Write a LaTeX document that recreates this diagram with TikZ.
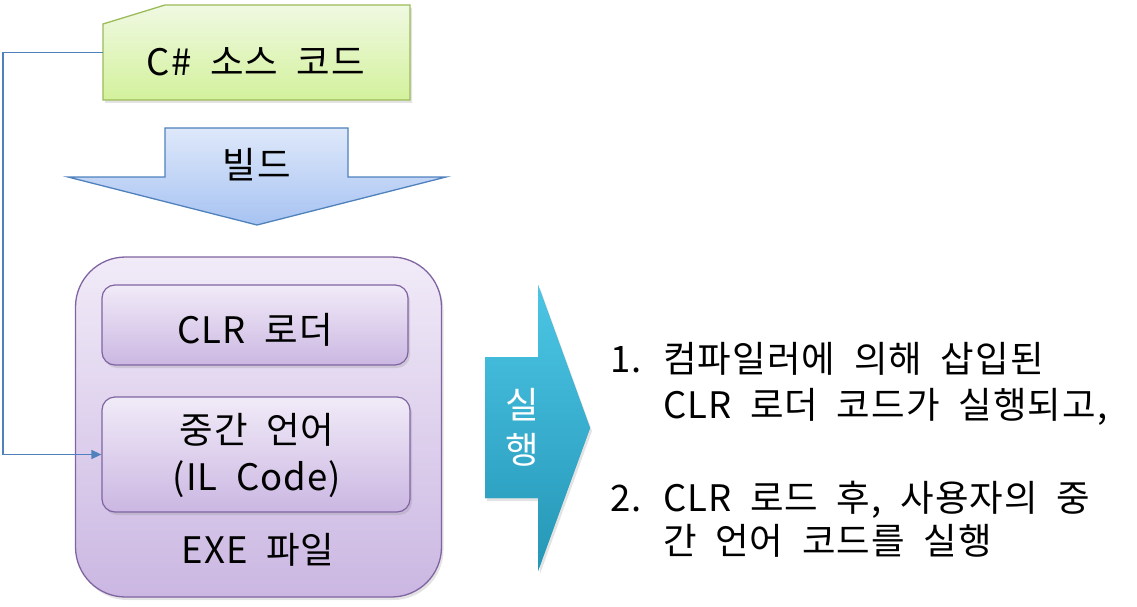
\documentclass[tikz,border=0pt]{standalone}
\usepackage{fontspec}
\setmainfont[LetterSpace=3,WordSpace=2.0]{Noto Sans CJK KR}
\usetikzlibrary{arrows.meta,shadows}
\definecolor{grnB}{HTML}{9BBB59}
\definecolor{grnT}{HTML}{F0F9E2}
\definecolor{grnD}{HTML}{D3F19C}
\definecolor{bluB}{HTML}{4F81BD}
\definecolor{bluT}{HTML}{DEE8FA}
\definecolor{bluD}{HTML}{A7C3F2}
\definecolor{purB}{HTML}{8064A2}
\definecolor{purT}{HTML}{F1EBF8}
\definecolor{purD}{HTML}{CBB7E2}
\definecolor{tealT}{HTML}{4CC6E6}
\definecolor{tealD}{HTML}{2596B6}
\tikzset{
  lbl/.style={font=\fontsize{36.5pt}{46pt}\selectfont, inner sep=0pt},
  shad/.style={drop shadow={shadow xshift=2pt, shadow yshift=-3pt, opacity=0.22}},
  innerbox/.style={draw=purB, line width=1.2pt, top color=purT, bottom color=purD, rounded corners=13pt, shad},
  conn/.style={draw=bluB, line width=1.3pt, -{Triangle[length=10pt,width=9pt]}},
}
\begin{document}
\begin{tikzpicture}[x=1pt,y=-1pt]
\useasboundingbox (0,0) rectangle (1137,607);
% source box (snipped corner)
\node[minimum width=307pt, minimum height=95pt, inner sep=0pt] (src) at (256.5,52.5) {};
\path[draw=grnB, line width=1.3pt, top color=grnT, bottom color=grnD, shad]
  (103,24) -- (165,5) -- (410,5) -- (410,100) -- (103,100) -- cycle;
\node[lbl] (srct) at (256,62) {C\# 소스 코드};
% build arrow
\path[draw=bluB, line width=1.3pt, top color=bluT, bottom color=bluD]
  (165,128) -- (348,128) -- (348,177) -- (446,177) -- (257,225) -- (68,177) -- (165,177) -- cycle;
\node[lbl] (build) at (257,165) {빌드};
% exe box
\node[draw=purB, line width=1.3pt, top color=purT, bottom color=purD, rounded corners=50pt,
      minimum width=366pt, minimum height=340pt, shad] (exe) at (258.5,427) {};
\node[innerbox, minimum width=306pt, minimum height=80pt] (clr) at (255,325) {};
\node[lbl] (clrt) at (255,330) {CLR 로더};
\node[innerbox, minimum width=308pt, minimum height=115pt] (il) at (256,454.5) {};
\node[lbl] (ilt1) at (257,430) {중간 언어};
\node[lbl] (ilt2) at (257,479) {(IL Code)};
\node[lbl] (exet) at (258,550) {EXE 파일};
% connector
\coordinate (bend) at (3,52.5);
\draw[conn] (src.west) -- (bend) |- (il.west);
% run arrow
\path[fill=tealD, top color=tealT, bottom color=tealD, shad]
  (485,357) -- (538,357) -- (538,285) -- (590,428) -- (538,571) -- (538,498) -- (485,498) -- cycle;
\node[lbl, text=white] (run1) at (522,405) {실};
\node[lbl, text=white] (run2) at (522,450) {행};
% right text
\node[lbl, anchor=base west] (n1) at (610,372) {1.};
\node[lbl, anchor=base west] (a1) at (663,372) {컴파일러에 의해 삽입된};
\node[lbl, anchor=base west] (b1) at (663,418) {CLR 로더 코드가 실행되고,};
\node[lbl, anchor=base west] (n2) at (610,511) {2.};
\node[lbl, anchor=base west] (a2) at (663,511) {CLR 로드 후, 사용자의 중};
\node[lbl, anchor=base west] (b2) at (663,554) {간 언어 코드를 실행};
\end{tikzpicture}
\end{document}
